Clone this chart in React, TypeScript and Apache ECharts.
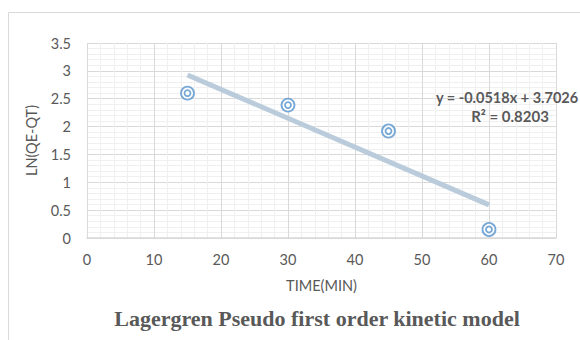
import React, { useEffect, useRef } from "react";
import * as echarts from "echarts";

const timeMin = [15, 30, 45, 60];
const lnQeQt = [2.6, 2.385, 1.92, 0.153];
const slope = -0.0518;
const intercept = 3.7026;
const rSquared = "0.8203";
const xTicks = { min: 0, max: 70, interval: 10 };
const yTicks = { min: 0, max: 3.5, interval: 0.5 };

const FONT = "Lato, 'Open Sans', sans-serif";
const GRAY = "#595959";

export default function App() {
  const ref = useRef<HTMLDivElement>(null);
  useEffect(() => {
    document.body.style.margin = "0";
    const chart = echarts.init(ref.current!, null, { renderer: "svg" });
    const pts = timeMin.map((x, i) => [x, lnQeQt[i]]);
    const x0 = timeMin[0];
    const x1 = timeMin[timeMin.length - 1];
    const trend = [
      [x0, slope * x0 + intercept],
      [x1, slope * x1 + intercept],
    ];
    chart.setOption({
      animation: false,
      backgroundColor: "#ffffff",
      grid: { left: 87, right: 24, top: 43, bottom: 102, containLabel: false },
      xAxis: {
        type: "value",
        min: xTicks.min,
        max: xTicks.max,
        interval: xTicks.interval,
        name: "TIME(MIN)",
        nameLocation: "middle",
        nameGap: 40,
        nameTextStyle: { color: GRAY, fontSize: 14.5, fontFamily: FONT },
        axisLine: { show: true, lineStyle: { color: "#d9d9d9", width: 1.5 } },
        axisTick: { show: false },
        axisLabel: { color: GRAY, fontSize: 14.5, fontFamily: FONT, margin: 14 },
        splitLine: { show: true, lineStyle: { color: "#d9d9d9", width: 1 } },
        minorTick: { show: false, splitNumber: 5 },
        minorSplitLine: { show: true, lineStyle: { color: "#f0f0f0", width: 1 } },
      },
      yAxis: {
        type: "value",
        min: yTicks.min,
        max: yTicks.max,
        interval: yTicks.interval,
        name: "LN(QE-QT)",
        nameLocation: "middle",
        nameGap: 48,
        nameRotate: 90,
        nameTextStyle: { color: GRAY, fontSize: 14.5, fontFamily: FONT },
        axisLine: { show: false },
        axisTick: { show: false },
        axisLabel: { color: GRAY, fontSize: 14.5, fontFamily: FONT, margin: 16 },
        splitLine: { show: true, lineStyle: { color: "#d9d9d9", width: 1 } },
        minorTick: { show: false, splitNumber: 5 },
        minorSplitLine: { show: true, lineStyle: { color: "#f0f0f0", width: 1 } },
      },
      series: [
        {
          type: "line",
          data: trend,
          symbol: "none",
          lineStyle: { color: "#bacbdb", width: 5 },
          silent: true,
          z: 2,
        },
        {
          type: "scatter",
          data: pts,
          symbol: "circle",
          symbolSize: 13,
          itemStyle: { color: "#ffffff", borderColor: "#5592cc", borderWidth: 1.8 },
          z: 3,
        },
        {
          type: "scatter",
          data: pts,
          symbol: "circle",
          symbolSize: 6,
          itemStyle: { color: "#ffffff", borderColor: "#5592cc", borderWidth: 1.8 },
          z: 4,
        },
      ],
      graphic: [
        {
          type: "rect",
          shape: { x: 8.5, y: 12.5, width: 700, height: 500 },
          style: { fill: "none", stroke: "#d9d9d9", lineWidth: 1 },
          silent: true,
          z: -10,
        },
        {
          type: "text",
          x: 436,
          y: 97,
          style: {
            text: `y = ${slope}x + ${intercept}`,
            fill: GRAY,
            font: `bold 14.5px ${FONT}`,
            textVerticalAlign: "middle",
          },
          z: 10,
        },
        {
          type: "text",
          x: 510,
          y: 116,
          style: {
            text: `R² = ${rSquared}`,
            fill: GRAY,
            font: `bold 15px ${FONT}`,
            textAlign: "center",
            textVerticalAlign: "middle",
          },
          z: 10,
        },
        {
          type: "text",
          x: 317,
          y: 318,
          style: {
            text: "Lagergren Pseudo first order kinetic model",
            fill: GRAY,
            font: "bold 22px 'Liberation Serif', 'Times New Roman', serif",
            textAlign: "center",
            textVerticalAlign: "middle",
          },
          z: 10,
        },
      ],
    });
    return () => chart.dispose();
  }, []);
  return <div ref={ref} style={{ width: 580, height: 340 }} />;
}
